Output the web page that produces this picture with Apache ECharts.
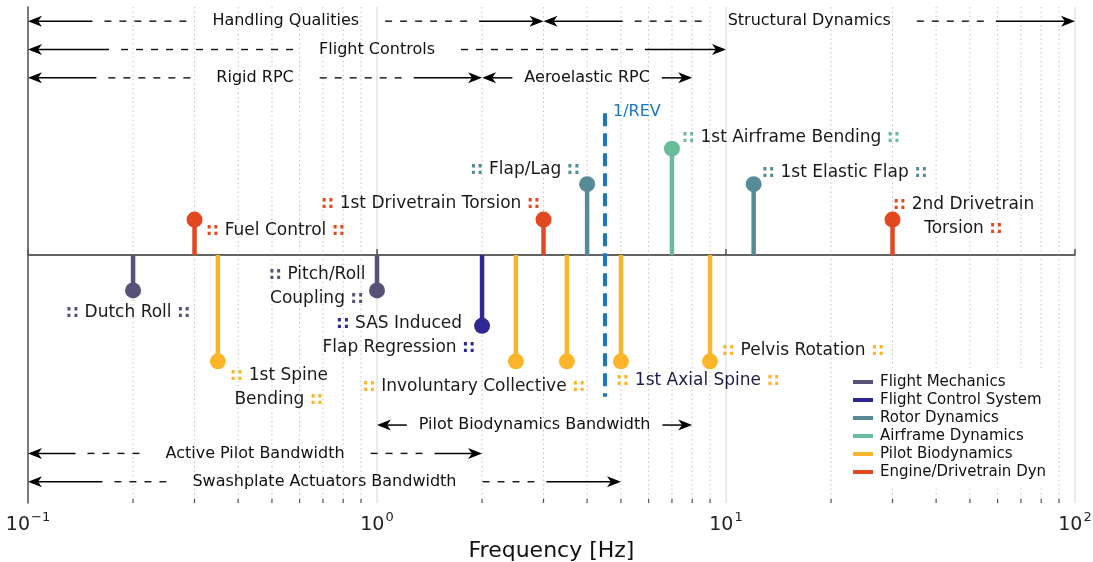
<!DOCTYPE html>
<html>
<head>
<meta charset="utf-8">
<script src="https://cdn.jsdelivr.net/npm/echarts@6/dist/echarts.min.js"></script>
<style>
  html, body { margin: 0; padding: 0; background: #ffffff; }
  #chart { width: 1093px; height: 562px; }
</style>
</head>
<body>
<div id="chart"></div>
<script>
// ---- Modes: label, frequency [Hz], stem level, discipline ----
const modeLabels = [
  ':: Dutch Roll ::',
  ':: Pitch/Roll\nCoupling ::',
  ':: SAS Induced\nFlap Regression ::',
  ':: Flap/Lag ::',
  ':: 1st Elastic Flap ::',
  ':: 1st Airframe Bending ::',
  ':: 1st Spine\nBending ::',
  ':: Involuntary Collective ::',
  '',
  ':: 1st Axial Spine ::',
  ':: Pelvis Rotation ::',
  ':: Fuel Control ::',
  ':: 1st Drivetrain Torsion ::',
  ':: 2nd Drivetrain\nTorsion ::'
];
const modeFreqs  = [0.2, 1.0, 2.0, 4.0, 12, 7, 0.35, 2.5, 3.5, 5, 9, 0.3, 3, 30];
const modeLevels = [-1, -1, -2, 2, 2, 3, -3, -3, -3, -3, -3, 1, 1, 1];
const modeGroups = [0, 0, 1, 2, 2, 3, 4, 4, 4, 4, 4, 5, 5, 5];

const groupNames = [
  'Flight Mechanics',
  'Flight Control System',
  'Rotor Dynamics',
  'Airframe Dynamics',
  'Pilot Biodynamics',
  'Engine/Drivetrain Dyn'
];

// ---- Frequency bands drawn as double arrows ----
const rangeLabels = [
  'Handling Qualities',
  'Structural Dynamics',
  'Flight Controls',
  'Rigid RPC',
  'Aeroelastic RPC',
  'Pilot Biodynamics Bandwidth',
  'Active Pilot Bandwidth',
  'Swashplate Actuators Bandwidth'
];
const rangeStart  = [0.1, 3, 0.1, 0.1, 2, 1, 0.1, 0.1];
const rangeEnd    = [3, 100, 10, 2, 8, 8, 2, 5];
const rangeLevels = [6.6, 6.6, 5.8, 5.0, 5.0, -4.8, -5.6, -6.4];
const rangeDashes = [6, 5, 12, 6, 0, 0, 4, 4];

// ---- Once-per-revolution marker ----
const revLabel = '1/REV';
const revFreq = 4.5;
const revSpan = [-4, 4];

// ---- Axis ----
const xTicks = [0.1, 1, 10, 100];
const xTickExponents = ['\u22121', '0', '1', '2'];
const xName = 'Frequency [Hz]';

// ---- Styling ----
const groupColors = ['#585178', '#2d2892', '#568b97', '#6aba9c', '#fcb52a', '#e2491e'];
const revColor = '#1878c3';
const FONT = 'DejaVu Sans';
const textColor = '#1a1a1a';
const modeFontSize = 17;
const rangeFontSize = 16;

// label position relative to the stem marker, in pixels (centre of text block)
const labelOffsets = {
  0: [-5, 22], 1: [-60, -4], 2: [-83, 10], 3: [-62, -15], 4: [91, -12],
  5: [119, -11], 6: [61, 26], 7: [-42, 25], 9: [77, 19], 10: [93, -11],
  11: [81, 11], 12: [-113, -16], 13: [71, -3]
};

const measureCtx = document.createElement('canvas').getContext('2d');
function textWidth(s, size) {
  measureCtx.font = size + 'px "' + FONT + '"';
  return measureCtx.measureText(s).width;
}

// minor gridline positions: 2..9 times each decade
const minorFreqs = [];
for (let d = 0; d < xTicks.length - 1; d++) {
  for (let m = 2; m <= 9; m++) minorFreqs.push(+(xTicks[d] * m).toPrecision(3));
}

function renderMinor(params, api) {
  const top = api.coord([api.value(0), 7]);
  const bot = api.coord([api.value(0), -7]);
  return {
    type: 'group',
    children: [
      { type: 'line', shape: { x1: top[0], y1: top[1], x2: bot[0], y2: bot[1] },
        style: { stroke: '#c4c4c4', lineWidth: 1, lineDash: [1.5, 3] } },
      { type: 'line', shape: { x1: bot[0], y1: bot[1], x2: bot[0], y2: bot[1] - 4 },
        style: { stroke: '#555555', lineWidth: 1.2 } }
    ]
  };
}

function renderBaseline(params, api) {
  const a = api.coord([xTicks[0], 0]);
  const b = api.coord([xTicks[xTicks.length - 1], 0]);
  return { type: 'line', shape: { x1: a[0], y1: a[1], x2: b[0], y2: b[1] },
    style: { stroke: '#5a5a5a', lineWidth: 1.5 } };
}

function arrowHead(tipX, y, dir) {
  // dir = -1 points left, +1 points right
  const L = 14, hw = 5.5;
  return { type: 'polygon', shape: { points: [
      [tipX, y], [tipX - dir * L, y - hw], [tipX - dir * L * 0.72, y], [tipX - dir * L, y + hw]
    ] }, style: { fill: '#000000' } };
}

function renderRange(params, api) {
  const i = api.value(2);
  const p1 = api.coord([rangeStart[i], rangeLevels[i]]);
  const p2 = api.coord([rangeEnd[i], rangeLevels[i]]);
  const y = p1[1];
  const xc = (p1[0] + p2[0]) / 2;
  const label = rangeLabels[i];
  const tw = textWidth(label, rangeFontSize);
  const n = rangeDashes[i];
  const dashLen = 7, period = 15, gText = 26, gArrow = 12;
  const children = [];
  const dashBlock = n > 0 ? n * period - (period - dashLen) : 0;
  [-1, 1].forEach(function (s) {
    const textEdge = xc + s * tw / 2;
    let tail;
    if (n > 0) {
      const dStart = textEdge + s * gText;
      for (let k = 0; k < n; k++) {
        const a = dStart + s * k * period;
        children.push({ type: 'line', shape: { x1: a, y1: y, x2: a + s * dashLen, y2: y },
          style: { stroke: '#111111', lineWidth: 1.4 } });
      }
      tail = dStart + s * (dashBlock + gArrow);
    } else {
      tail = textEdge + s * gArrow;
    }
    const tip = s < 0 ? p1[0] : p2[0];
    children.push({ type: 'line', shape: { x1: tail, y1: y, x2: tip - s * 10, y2: y },
      style: { stroke: '#000000', lineWidth: 1.5 } });
    children.push(arrowHead(tip, y, s));
  });
  children.push({ type: 'text', x: xc, y: y, style: {
    text: label, fontSize: rangeFontSize, fontFamily: FONT, fill: '#111111',
    align: 'center', verticalAlign: 'middle' } });
  return { type: 'group', children: children };
}

function renderRev(params, api) {
  const a = api.coord([revFreq, revSpan[1]]);
  const b = api.coord([revFreq, revSpan[0]]);
  return { type: 'group', children: [
    { type: 'line', shape: { x1: a[0], y1: a[1], x2: b[0], y2: b[1] },
      style: { stroke: revColor, lineWidth: 4, lineDash: [13, 7] } },
    { type: 'text', x: a[0] + 8, y: a[1] - 1, style: {
      text: revLabel, fontSize: 16, fontFamily: FONT, fill: revColor,
      align: 'left', verticalAlign: 'middle' } }
  ] };
}

function renderMode(params, api) {
  const idx = api.value(2);
  const base = api.coord([api.value(0), 0]);
  const tip = api.coord([api.value(0), api.value(1)]);
  const color = groupColors[modeGroups[idx]];
  const children = [
    { type: 'line', shape: { x1: base[0], y1: base[1], x2: tip[0], y2: tip[1] },
      style: { stroke: color, lineWidth: 4.5 } },
    { type: 'circle', shape: { cx: tip[0], cy: tip[1], r: 8 }, style: { fill: color } }
  ];
  const text = modeLabels[idx];
  if (text) {
    const off = labelOffsets[idx];
    children.push({ type: 'text', x: tip[0] + off[0], y: tip[1] + off[1], style: {
      text: text.replace(/::/g, '{c|::}'),
      fontSize: modeFontSize, fontFamily: FONT, fill: idx === 9 ? '#1e1c4a' : textColor,
      lineHeight: 24, align: 'center', verticalAlign: 'middle',
      rich: { c: { fill: color, fontWeight: 'bold', fontSize: modeFontSize, fontFamily: FONT, lineHeight: 24 } }
    } });
  }
  return { type: 'group', children: children };
}

const series = [
  { type: 'custom', name: '_minor', coordinateSystem: 'cartesian2d', renderItem: renderMinor,
    data: minorFreqs.map(function (f) { return [f, 0]; }), clip: false, z: 1, silent: true },
  { type: 'custom', name: '_base', coordinateSystem: 'cartesian2d', renderItem: renderBaseline,
    data: [[1, 0]], clip: false, z: 2, silent: true },
  { type: 'custom', name: '_ranges', coordinateSystem: 'cartesian2d', renderItem: renderRange,
    data: rangeLabels.map(function (l, i) { return [rangeStart[i], rangeLevels[i], i]; }),
    clip: false, z: 3, silent: true },
  { type: 'custom', name: '_rev', coordinateSystem: 'cartesian2d', renderItem: renderRev,
    data: [[revFreq, revSpan[1]]], clip: false, z: 3, silent: true }
];

groupNames.forEach(function (g, gi) {
  const data = [];
  modeFreqs.forEach(function (f, i) {
    if (modeGroups[i] === gi) data.push([f, modeLevels[i], i]);
  });
  series.push({ type: 'custom', name: g, coordinateSystem: 'cartesian2d',
    renderItem: renderMode, data: data, clip: false, z: 4,
    itemStyle: { color: groupColors[gi] }, color: groupColors[gi] });
});

const chart = echarts.init(document.getElementById('chart'), null, { renderer: 'canvas' });
chart.setOption({
  animation: false,
  backgroundColor: '#ffffff',
  textStyle: { fontFamily: FONT },
  grid: { left: 28, right: 18, top: 7, bottom: 59, containLabel: false, outerBoundsMode: 'none' },
  xAxis: {
    type: 'log', logBase: 10, min: xTicks[0], max: xTicks[xTicks.length - 1],
    name: xName, nameLocation: 'middle', nameGap: 36,
    nameTextStyle: { fontSize: 22, color: '#111111', fontFamily: FONT },
    axisLine: { show: true, lineStyle: { color: '#555555', width: 1.5 } },
    axisTick: { show: true, inside: true, length: 6, lineStyle: { color: '#555555', width: 1.5 } },
    splitLine: { show: true, lineStyle: { color: '#e4e4e4', width: 1.5 } },
    axisLabel: {
      margin: 8,
      formatter: function (v) {
        const k = xTicks.findIndex(function (t) { return Math.abs(Math.log10(t) - Math.log10(v)) < 1e-6; });
        if (k < 0) return '';
        return '{b|10}{s|' + xTickExponents[k] + '}';
      },
      rich: {
        b: { fontSize: 19, fontFamily: FONT, color: '#222222', lineHeight: 24, verticalAlign: 'bottom' },
        s: { fontSize: 13, fontFamily: FONT, color: '#222222', lineHeight: 24, verticalAlign: 'top', padding: [0, 0, 0, 1] }
      }
    }
  },
  yAxis: {
    type: 'value', min: -7, max: 7,
    axisLine: { show: true, onZero: false, lineStyle: { color: '#555555', width: 1.5 } },
    axisTick: { show: false }, axisLabel: { show: false }, splitLine: { show: false }
  },
  legend: {
    data: groupNames, orient: 'vertical', left: 843, top: 368,
    backgroundColor: '#ffffff', padding: [5, 10, 5, 10],
    icon: 'rect', itemWidth: 20, itemHeight: 4, itemGap: 0,
    selectedMode: false,
    textStyle: { fontSize: 15, fontFamily: FONT, color: '#111111', lineHeight: 18, padding: [0, 0, 0, 2] }
  },
  series: series
});
</script>
</body>
</html>
